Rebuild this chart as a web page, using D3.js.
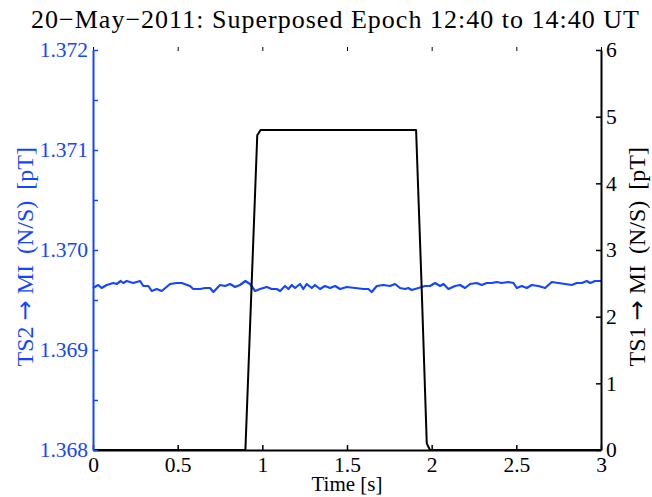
<!DOCTYPE html>
<html><head><meta charset="utf-8">
<script src="https://cdn.jsdelivr.net/npm/d3@7"></script>
<style>body{margin:0;background:#fff}svg{display:block}text{font-family:"Liberation Serif","Times New Roman",serif}</style>
</head><body><svg id="c" width="652" height="497"></svg>
<script>
// ---- data ----
const title = "20\u2212May\u22122011: Superposed Epoch 12:40 to 14:40 UT";
const xLabel = "Time [s]";
const leftLabelParts = ["TS2", "\u2192", "MI", " (N/S)", " [pT]"];
const rightLabelParts = ["TS1", "\u2192", "MI", " (N/S)", " [pT]"];
const xTicks = [0, 0.5, 1, 1.5, 2, 2.5, 3];
const xTickLabels = ["0", "0.5", "1", "1.5", "2", "2.5", "3"];
const leftTicks = [1.368, 1.3685, 1.369, 1.3695, 1.37, 1.3705, 1.371, 1.3715, 1.372];
const leftTickLabels = ["1.368", "", "1.369", "", "1.370", "", "1.371", "", "1.372"];
const rightTicks = [0, 1, 2, 3, 4, 5, 6];
const rightTickLabels = ["0", "1", "2", "3", "4", "5", "6"];

// TS1 -> MI (black, right axis)
const ts1Time = [0, 0.90, 0.97, 0.99, 1.908, 1.94, 1.971, 1.99, 3.0];
const ts1Value = [0, 0, 4.72, 4.8, 4.8, 2.5, 0.1, 0, 0];

// TS2 -> MI (blue, left axis)
const ts2Time = [0.00,0.031,0.051,0.081,0.12,0.14,0.164,0.179,0.199,0.238,0.278,0.297,0.327,0.347,0.376,0.406,0.455,0.494,0.524,0.573,0.592,0.632,0.662,0.691,0.711,0.75,0.78,0.81,0.839,0.868,0.90,0.927,0.957,0.986,1.026,1.055,1.085,1.105,1.134,1.154,1.174,1.193,1.223,1.242,1.262,1.292,1.311,1.341,1.370,1.40,1.43,1.459,1.498,1.548,1.597,1.626,1.646,1.676,1.715,1.754,1.784,1.813,1.843,1.862,1.882,1.922,1.961,1.99,2.02,2.05,2.07,2.099,2.138,2.168,2.197,2.227,2.266,2.296,2.325,2.355,2.384,2.414,2.453,2.483,2.503,2.532,2.562,2.591,2.63,2.67,2.709,2.749,2.788,2.827,2.857,2.887,2.916,2.936,2.965,3.0];
const ts2Value = [1.36962,1.36965,1.36962,1.36965,1.36967,1.36966,1.36969,1.36967,1.36969,1.36967,1.36969,1.36964,1.36964,1.36959,1.36961,1.36959,1.36966,1.36967,1.36967,1.36964,1.36961,1.36961,1.36962,1.36962,1.36958,1.36965,1.36964,1.36966,1.36963,1.36965,1.36969,1.36966,1.36959,1.36961,1.36963,1.36961,1.36961,1.36959,1.36964,1.36961,1.36965,1.36962,1.36966,1.36961,1.36966,1.36962,1.36965,1.36961,1.36964,1.36962,1.36964,1.36961,1.36963,1.36962,1.36961,1.36961,1.36958,1.36964,1.36965,1.36964,1.36966,1.36962,1.36961,1.36962,1.36960,1.36962,1.36964,1.36964,1.36967,1.36964,1.36966,1.36961,1.36964,1.36965,1.36962,1.36966,1.36967,1.36965,1.36967,1.36967,1.36968,1.36967,1.36968,1.36967,1.36962,1.36964,1.36962,1.36965,1.36964,1.36962,1.36968,1.36967,1.36966,1.36965,1.36967,1.36967,1.36969,1.36967,1.36969,1.36969];

// ---- layout ----
const BLUE = "rgb(20,70,255)";
const m = {left: 93, right: 601, top: 50, bottom: 450};
const svg = d3.select("#c");
const x = d3.scaleLinear().domain([0, 3]).range([m.left, m.right]);
const yL = d3.scaleLinear().domain([1.368, 1.372]).range([m.bottom, m.top]);
const yR = d3.scaleLinear().domain([0, 6]).range([m.bottom, m.top]);
const FS = 21.5;

// lines
svg.append("path")
  .datum(ts2Time.map((t, i) => [t, ts2Value[i]]))
  .attr("d", d3.line().x(d => x(d[0])).y(d => yL(d[1])))
  .attr("fill", "none").attr("stroke", BLUE).attr("stroke-width", 2.2).attr("stroke-linejoin", "round");
svg.append("path")
  .datum(ts1Time.map((t, i) => [t, ts1Value[i]]))
  .attr("d", d3.line().x(d => x(d[0])).y(d => yR(d[1])))
  .attr("fill", "none").attr("stroke", "#000").attr("stroke-width", 2).attr("stroke-linejoin", "round");

// bottom axis
const gx = svg.append("g").attr("transform", `translate(0,${m.bottom})`)
  .call(d3.axisBottom(x).tickValues(xTicks).tickFormat((d, i) => xTickLabels[i]).tickSizeInner(-5).tickSizeOuter(0).tickPadding(7));
gx.select(".domain").attr("stroke", "#000").attr("stroke-width", 2);
gx.selectAll(".tick line").attr("stroke", "#000").attr("stroke-width", 1.5);
gx.selectAll("text").attr("font-size", FS).attr("font-family", "Liberation Serif").attr("fill", "#000").attr("dy", "0.71em");

// top ticks (no axis line)
const gt = svg.append("g").attr("transform", `translate(0,${m.top - 3})`)
  .call(d3.axisTop(x).tickValues(xTicks).tickFormat("").tickSizeInner(-4).tickSizeOuter(0));
gt.select(".domain").remove();
gt.selectAll(".tick line").attr("stroke", "#000").attr("stroke-width", 1);

// left axis
const gl = svg.append("g").attr("transform", `translate(${m.left},0)`)
  .call(d3.axisLeft(yL).tickValues(leftTicks).tickFormat((d, i) => leftTickLabels[i]).tickSizeInner(-5).tickSizeOuter(0).tickPadding(5));
gl.select(".domain").attr("stroke", BLUE).attr("stroke-width", 2);
gl.selectAll(".tick line").attr("stroke", BLUE).attr("stroke-width", 1.5);
gl.selectAll("text").attr("font-size", FS).attr("font-family", "Liberation Serif").attr("fill", BLUE);

// right axis
const gr = svg.append("g").attr("transform", `translate(${m.right},0)`)
  .call(d3.axisRight(yR).tickValues(rightTicks).tickFormat((d, i) => rightTickLabels[i]).tickSizeInner(-5).tickSizeOuter(0).tickPadding(5));
gr.select(".domain").attr("stroke", "#000").attr("stroke-width", 2);
gr.selectAll(".tick line").attr("stroke", "#000").attr("stroke-width", 1.5);
gr.selectAll("text").attr("font-size", FS).attr("font-family", "Liberation Serif").attr("fill", "#000");

// titles
svg.append("text").attr("x", 335).attr("y", 28).attr("text-anchor", "middle")
  .attr("font-size", 26).attr("textLength", 608).attr("lengthAdjust", "spacing")
  .attr("fill", "#000").text(title);
svg.append("text").attr("x", 347).attr("y", 491).attr("text-anchor", "middle")
  .attr("font-size", 21).attr("fill", "#000").text(xLabel);

// vertical labels, top end at y = 147
function yLabel(parts, tx, color) {
  const t = svg.append("text").attr("transform", `translate(${tx},147) rotate(-90)`)
    .attr("text-anchor", "end").attr("font-size", 24).attr("fill", color);
  t.append("tspan").text(parts[0]);
  t.append("tspan").attr("dx", 6).attr("font-family", "DejaVu Sans").attr("font-size", 24).text(parts[1]);
  t.append("tspan").attr("dx", 6).text(parts[2]);
  t.append("tspan").attr("dx", 5).text(parts[3]);
  t.append("tspan").attr("dx", 5).text(parts[4]);
}
yLabel(leftLabelParts, 33, BLUE);
yLabel(rightLabelParts, 645, "#000");
</script></body></html>
